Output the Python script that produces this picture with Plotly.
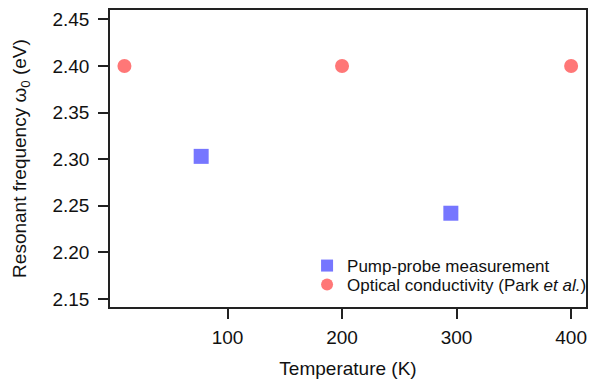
import plotly.graph_objects as go

pump_T = [77, 295]
pump_w0 = [2.303, 2.242]
opt_T = [10, 200, 400]
opt_w0 = [2.400, 2.400, 2.400]
x_ticks = [100, 200, 300, 400]
y_ticks = [2.15, 2.20, 2.25, 2.30, 2.35, 2.40, 2.45]

FONT = "Liberation Sans, Arial, sans-serif"

fig = go.Figure()
fig.add_trace(go.Scatter(
    x=pump_T, y=pump_w0, mode="markers", name="Pump-probe measurement",
    marker=dict(symbol="square", size=15, color="#7676FF", line=dict(width=0)),
    legend="legend",
))
fig.add_trace(go.Scatter(
    x=opt_T, y=opt_w0, mode="markers", name="Optical conductivity (Park <i>et al.</i>)",
    marker=dict(symbol="circle", size=14, color="#FF7777", line=dict(width=0)),
    legend="legend2",
))

axis_common = dict(
    showline=True, linecolor="#222", linewidth=1.5, mirror=True,
    ticks="outside", ticklen=10, tickwidth=1.5, tickcolor="#222",
    showgrid=False, zeroline=False,
    tickfont=dict(family=FONT, size=19, color="#111"),
)

legend_common = dict(
    xanchor="left", yanchor="middle", bgcolor="rgba(0,0,0,0)",
    font=dict(family=FONT, size=17, color="#111"), itemsizing="constant",
    borderwidth=0,
)

fig.update_layout(
    width=596, height=385,
    margin=dict(l=110, r=4, t=10, b=78),
    paper_bgcolor="white", plot_bgcolor="white",
    xaxis=dict(range=[-2.6, 413], tickvals=x_ticks, ticklabelstandoff=2,
               title=dict(text="Temperature (K)", font=dict(family=FONT, size=19, color="#111"), standoff=15),
               **axis_common),
    yaxis=dict(range=[2.1414, 2.46], tickvals=y_ticks, tickformat=".2f", ticklabelstandoff=5,
               title=dict(text="Resonant frequency ω<sub>0</sub> (eV)", font=dict(family=FONT, size=19, color="#111"), standoff=21),
               **axis_common),
    legend=dict(x=0.414, y=0.138, **legend_common),
    legend2=dict(x=0.414, y=0.074, **legend_common),
    showlegend=True,
)

fig.write_html("out.html", config={"displayModeBar": False},
               post_script="document.body.style.margin='0';document.body.style.overflow='hidden';")
